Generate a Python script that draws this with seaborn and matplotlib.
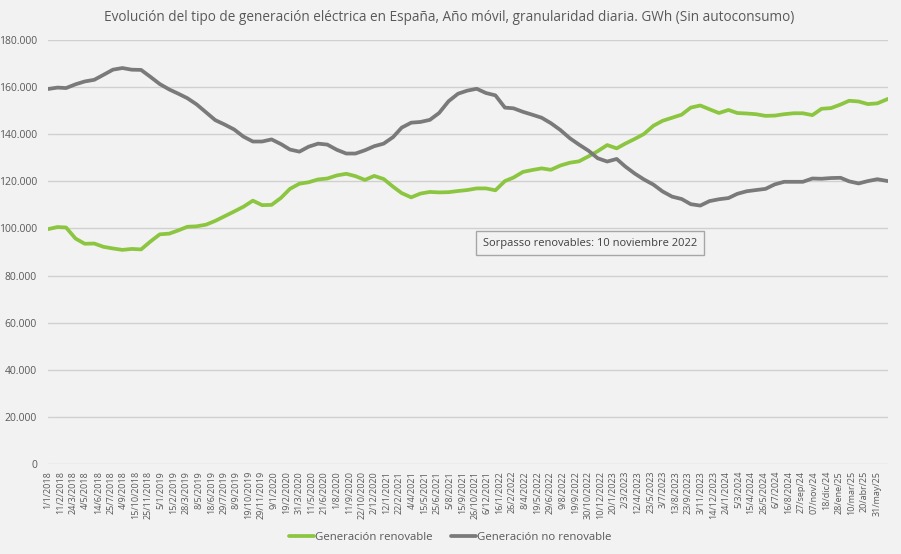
import matplotlib
matplotlib.use("Agg")
import matplotlib.pyplot as plt
import matplotlib.ticker as mticker
import seaborn as sns
import pandas as pd

# fechas: primer día de cada mes + último dato
fechas = list(pd.date_range("2018-01-01", "2025-06-01", freq="MS")) + [pd.Timestamp("2025-07-06")]

# miles de GWh (año móvil)
renovable = [
    99.7, 100.6, 100.4, 95.7, 93.5, 93.6, 92.2, 91.5, 90.9, 91.3, 91.1, 94.4,
    97.5, 97.8, 99.1, 100.7, 100.9, 101.6, 103.2, 105.2, 107.2, 109.2, 111.8, 109.9,
    110.0, 113.0, 116.8, 119.0, 119.6, 120.8, 121.2, 122.5, 123.2, 122.2, 120.6, 122.3,
    121.0, 117.7, 115.0, 113.2, 114.8, 115.5, 115.3, 115.4, 115.9, 116.3, 117.0, 117.0,
    116.2, 120.1, 121.6, 124.0, 124.8, 125.5, 124.9, 126.7, 127.9, 128.5, 130.6, 132.8,
    135.4, 134.0, 136.0, 138.0, 140.1, 143.6, 145.7, 147.0, 148.3, 151.3, 152.2, 150.6,
    149.0, 150.3, 149.0, 148.8, 148.5, 147.8, 147.9, 148.5, 148.9, 148.9, 148.1, 150.8,
    151.1, 152.6, 154.2, 153.9, 152.8, 153.1, 155.0,
]
no_renovable = [
    159.2, 159.8, 159.6, 161.2, 162.4, 163.1, 165.2, 167.4, 168.1, 167.4, 167.3, 164.4,
    161.3, 159.0, 157.3, 155.3, 152.7, 149.3, 146.0, 144.1, 142.0, 139.0, 136.9, 136.9,
    137.8, 135.8, 133.5, 132.6, 134.7, 136.0, 135.6, 133.4, 131.8, 131.8, 133.2, 134.9,
    136.0, 138.8, 142.8, 144.9, 145.2, 146.1, 149.0, 154.0, 157.2, 158.5, 159.3, 157.5,
    156.5, 151.3, 151.0, 149.5, 148.3, 147.0, 144.7, 141.8, 138.3, 135.6, 133.0, 129.8,
    128.4, 129.5, 126.3, 123.3, 120.8, 118.6, 115.7, 113.5, 112.5, 110.3, 109.7, 111.6,
    112.4, 112.9, 114.7, 115.8, 116.3, 116.8, 118.7, 119.8, 119.8, 119.8, 121.2, 121.1,
    121.4, 121.5, 120.0, 119.1, 120.1, 120.9, 120.1,
]

etiquetas_x = [
    "1/1/2018", "11/2/2018", "24/3/2018", "4/5/2018", "14/6/2018", "25/7/2018", "4/9/2018",
    "15/10/2018", "25/11/2018", "5/1/2019", "15/2/2019", "28/3/2019", "8/5/2019", "18/6/2019",
    "29/7/2019", "8/9/2019", "19/10/2019", "29/11/2019", "9/1/2020", "19/2/2020", "31/3/2020",
    "11/5/2020", "21/6/2020", "1/8/2020", "11/9/2020", "22/10/2020", "2/12/2020", "12/1/2021",
    "22/2/2021", "4/4/2021", "15/5/2021", "25/6/2021", "5/8/2021", "15/9/2021", "26/10/2021",
    "6/12/2021", "16/1/2022", "26/2/2022", "8/4/2022", "19/5/2022", "29/6/2022", "9/8/2022",
    "19/9/2022", "30/10/2022", "10/12/2022", "20/1/2023", "2/3/2023", "12/4/2023", "23/5/2023",
    "3/7/2023", "13/8/2023", "23/9/2023", "3/11/2023", "14/12/2023", "24/1/2024", "5/3/2024",
    "15/4/2024", "26/5/2024", "6/7/2024", "16/8/2024", "27/sep/24", "07/nov/24", "18/dic/24",
    "28/ene/25", "10/mar/25", "20/abr/25", "31/may/25",
]

series = ["Generación renovable", "Generación no renovable"]
colores = {"Generación renovable": "#8cc640", "Generación no renovable": "#7a7a7a"}

df = pd.concat([
    pd.DataFrame({"fecha": fechas, "GWh": [v * 1000 for v in renovable], "serie": series[0]}),
    pd.DataFrame({"fecha": fechas, "GWh": [v * 1000 for v in no_renovable], "serie": series[1]}),
])

sns.set_theme(style="whitegrid")
plt.rcParams["font.family"] = ["Open Sans", "DejaVu Sans"]
bg = "#f2f2f2"
gris_txt = "#595959"

fig = plt.figure(figsize=(9.01, 5.54), dpi=100, facecolor=bg)
ax = fig.add_axes([48 / 901, 90 / 554, 840 / 901, 424 / 554], facecolor=bg)

sns.lineplot(data=df, x="fecha", y="GWh", hue="serie", hue_order=series, palette=colores,
             linewidth=2.7, ax=ax, legend=False)

ax.set_ylim(0, 180000)
ax.set_xlim(fechas[0], fechas[-1])
ax.yaxis.set_major_locator(mticker.MultipleLocator(20000))
ax.yaxis.set_major_formatter(mticker.FuncFormatter(lambda v, p: f"{v:,.0f}".replace(",", ".")))
ticks_x = pd.date_range("2018-01-01", periods=len(etiquetas_x), freq="41D")
ax.set_xticks(ticks_x)
ax.set_xticklabels(etiquetas_x, rotation=90)
ax.grid(axis="y", color="#d0d0d0", linewidth=1)
ax.grid(axis="x", visible=False)
for s in ax.spines.values():
    s.set_visible(False)
ax.tick_params(axis="y", labelsize=7.5, colors=gris_txt, length=0, pad=8)
ax.tick_params(axis="x", labelsize=6.5, colors=gris_txt, length=0, pad=5)
ax.set_xlabel("")
ax.set_ylabel("")

fig.text(0.499, 0.969, "Evolución del tipo de generación eléctrica en España, Año móvil, granularidad diaria. GWh (Sin autoconsumo)",
         ha="center", va="center", fontsize=9.8, color=gris_txt)

fig.text(0.655, 0.561, "Sorpasso renovables: 10 noviembre 2022", ha="center", va="center",
         fontsize=8, color="#404040",
         bbox=dict(boxstyle="square,pad=0.6", facecolor=bg, edgecolor="#a6a6a6", linewidth=1))

handles = [plt.Line2D([], [], color=colores[s], linewidth=2.7) for s in series]
leg = fig.legend(handles, series, loc="center", bbox_to_anchor=(0.5, 0.029), ncol=2, frameon=False,
                 fontsize=8.2, handlelength=2.2, handletextpad=0.1, columnspacing=1.6)
for t in leg.get_texts():
    t.set_color(gris_txt)

fig.savefig("out.png", dpi=100, facecolor=bg)
